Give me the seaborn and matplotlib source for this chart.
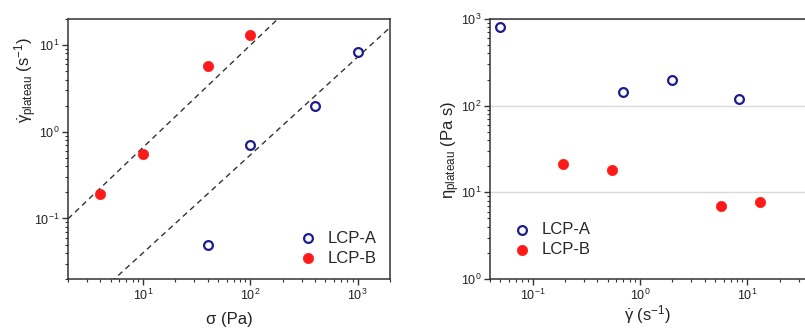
import numpy as np
import pandas as pd
import matplotlib
matplotlib.use("Agg")
import matplotlib.pyplot as plt
import seaborn as sns
from matplotlib.ticker import LogLocator, NullFormatter

sns.set_theme(style="white")
plt.rcParams['font.family'] = ['Liberation Sans', 'DejaVu Sans']
plt.rcParams['mathtext.fontset'] = 'custom'
plt.rcParams['mathtext.rm'] = 'Liberation Sans'
plt.rcParams['mathtext.it'] = 'Liberation Sans:italic'
plt.rcParams['mathtext.default'] = 'regular'

# ---- data ----
series = ["LCP-A", "LCP-B"]
sigma_A = [40, 100, 400, 1000]
rate_A = [0.05, 0.70, 2.0, 8.3]
sigma_B = [4, 10, 40, 100]
rate_B = [0.19, 0.55, 5.7, 13.0]

shear_A = [0.05, 0.70, 2.0, 8.3]
eta_A = [800, 145, 200, 120]
shear_B = [0.19, 0.55, 5.7, 13.0]
eta_B = [21, 18, 7.0, 7.7]

# power-law guide lines: (prefactor, exponent)
fit_A = (0.00297, 1.13)
fit_B = (0.0436, 1.18)

blue = "#1c1c8f"
red = "#ff1a1a"
spine_c = "#333333"
text_c = "#222222"

fig = plt.figure(figsize=(8.05, 3.29), dpi=100)
ax1 = fig.add_axes([68/805, 50/329, 322/805, 260/329])
ax2 = fig.add_axes([490/805, 50/329, 322/805, 260/329])

dfA1 = pd.DataFrame({"x": sigma_A, "y": rate_A})
dfB1 = pd.DataFrame({"x": sigma_B, "y": rate_B})
dfA2 = pd.DataFrame({"x": shear_A, "y": eta_A})
dfB2 = pd.DataFrame({"x": shear_B, "y": eta_B})

for ax in (ax1, ax2):
    ax.set_xscale("log")
    ax.set_yscale("log")

# guide lines
xx = np.logspace(np.log10(2), np.log10(2000), 200)
for a, b in (fit_A, fit_B):
    ax1.plot(xx, a * xx ** b, ls=(0, (4, 3)), color="#333333", lw=1.0, zorder=1)

def draw(ax, dfA, dfB):
    sns.scatterplot(data=dfA, x="x", y="y", ax=ax, marker="o", s=40,
                    facecolor="white", edgecolor=blue, linewidth=1.6,
                    label=series[0], zorder=3)
    sns.scatterplot(data=dfB, x="x", y="y", ax=ax, marker="o", s=55,
                    color=red, edgecolor=red, linewidth=0.5,
                    label=series[1], zorder=3)

draw(ax1, dfA1, dfB1)
draw(ax2, dfA2, dfB2)

ax1.set_xlim(2, 2000)
ax1.set_ylim(0.02, 20)
ax2.set_xlim(0.04, 40)
ax2.set_ylim(1, 1000)

ax2.yaxis.grid(True, which="major", color="#d9d9d9", lw=1.0)
ax2.set_axisbelow(True)

for ax in (ax1, ax2):
    for s in ax.spines.values():
        s.set_color(spine_c)
        s.set_linewidth(1.1)
    ax.tick_params(which="both", direction="out", color=spine_c,
                   bottom=True, left=True, top=False, right=False,
                   labelsize=9, labelcolor=text_c, pad=2)
    ax.tick_params(which="major", length=4, width=1.0)
    ax.tick_params(which="minor", length=2.5, width=0.8)
    ax.xaxis.set_major_locator(LogLocator(base=10, numticks=10))
    ax.xaxis.set_minor_locator(LogLocator(base=10, subs=np.arange(2, 10), numticks=20))
    ax.yaxis.set_major_locator(LogLocator(base=10, numticks=10))
    ax.yaxis.set_minor_locator(LogLocator(base=10, subs=np.arange(2, 10), numticks=20))
    ax.xaxis.set_minor_formatter(NullFormatter())
    ax.yaxis.set_minor_formatter(NullFormatter())

ax1.set_xlabel("σ (Pa)", fontsize=12, color=text_c, va="baseline")
ax1.set_ylabel(r"$\dot{\gamma}_{plateau}$ (s$^{-1}$)", fontsize=12, color=text_c)
ax2.set_xlabel(r"$\dot{\gamma}$ (s$^{-1}$)", fontsize=12, color=text_c, va="baseline")
ax2.set_ylabel(r"η$_{plateau}$ (Pa s)", fontsize=12, color=text_c)

ax1.xaxis.set_label_coords(0.5, -0.173)
ax2.xaxis.set_label_coords(0.49, -0.158)
ax1.yaxis.set_label_coords(-0.09, 0.765)
ax2.yaxis.set_label_coords(-0.088, 0.496)

ax1.legend(loc="lower right", frameon=False, fontsize=12, handletextpad=0.6,
           labelspacing=0.3, borderaxespad=0.4, handlelength=1.2)
ax2.legend(loc="lower left", frameon=False, fontsize=12, handletextpad=0.6,
           labelspacing=0.3, borderaxespad=0.9, handlelength=1.2)

fig.savefig("out.png", dpi=100)
